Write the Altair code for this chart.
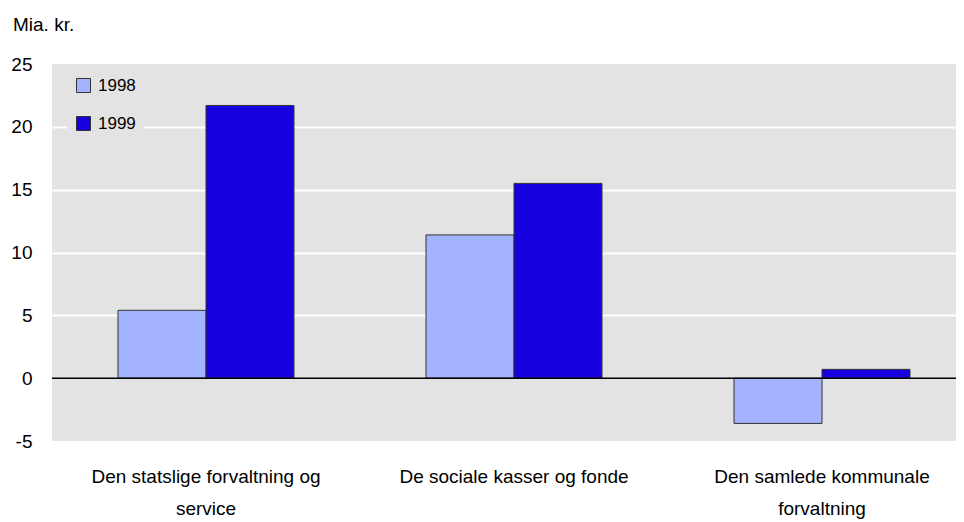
import altair as alt
import pandas as pd

categories = ["Den statslige forvaltning og service", "De sociale kasser og fonde", "Den samlede kommunale forvaltning"]
label_lines = [["Den statslige forvaltning og", "service"], ["De sociale kasser og fonde"], ["Den samlede kommunale", "forvaltning"]]
years = ["1998", "1999"]
v1998 = [5.4, 11.4, -3.6]
v1999 = [21.7, 15.5, 0.7]
colors = ["#A3B3FF", "#1700E0"]
y_ticks = [-5, 0, 5, 10, 15, 20, 25]

rows = []
for c, a, b in zip(categories, v1998, v1999):
    rows.append({"kategori": c, "aar": "1998", "vaerdi": a})
    rows.append({"kategori": c, "aar": "1999", "vaerdi": b})
df = pd.DataFrame(rows)

expr = "''"
for c, lines in reversed(list(zip(categories, label_lines))):
    arr = "[" + ",".join("'" + l + "'" for l in lines) + "]"
    expr = f"datum.label == '{c}' ? {arr} : ({expr})"

FONT = "Liberation Sans"
BG = "#E3E3E3"

bars = alt.Chart(df).mark_bar(stroke="#333333", strokeWidth=1).encode(
    x=alt.X("kategori:N", sort=categories, title=None,
            scale=alt.Scale(range=[0, 924], paddingInner=0.4286, paddingOuter=0.2143),
            axis=alt.Axis(labelExpr=expr, labelAngle=0, ticks=False, domain=False,
                          labelFontSize=19, labelPadding=26, labelLineHeight=32,
                          labelLimit=0, labelFont=FONT, labelColor="black", grid=False)),
    xOffset=alt.XOffset("aar:N", sort=years),
    y=alt.Y("vaerdi:Q", title=None,
            scale=alt.Scale(domain=[-5, 25], nice=False, zero=False),
            axis=alt.Axis(values=y_ticks, ticks=False, domain=False, labelFontSize=19,
                          labelExpr="datum.value < 0 ? '-' + abs(datum.value) : datum.label",
                          labelFont=FONT, labelColor="black", labelPadding=20,
                          grid=True, gridWidth=2,
                          gridColor={"condition": {"test": "datum.value == 25 || datum.value == -5 || datum.value == 0", "value": "transparent"}, "value": "white"})),
    color=alt.Color("aar:N", sort=years, scale=alt.Scale(domain=years, range=colors),
                    legend=alt.Legend(title=None, orient="none", legendX=15, legendY=5,
                                      fillColor=BG, padding=8, symbolType="square",
                                      symbolSize=196, symbolStrokeColor="#333333",
                                      symbolStrokeWidth=1, labelFontSize=17, labelFont=FONT,
                                      labelColor="black", labelOffset=6, rowPadding=19)),
)

zero = alt.Chart(pd.DataFrame({"y": [0]})).mark_rule(color="black", strokeWidth=1.5).encode(
    y="y:Q", x=alt.value(0), x2=alt.value(904)
)

title = alt.Chart(pd.DataFrame({"t": ["Mia. kr."]})).mark_text(
    align="left", baseline="alphabetic", fontSize=19, font=FONT, color="black"
).encode(text="t:N", x=alt.value(-39), y=alt.value(-33))

chart = alt.layer(bars, zero, title).properties(
    width=904, height=377,
    autosize=alt.AutoSizeParams(type="none"),
    padding={"left": 44, "top": 56, "right": 0, "bottom": 80},
    background="white",
).configure_view(fill=BG, stroke=None)

chart.save("out.html", embed_options={"renderer": "svg", "actions": False})
